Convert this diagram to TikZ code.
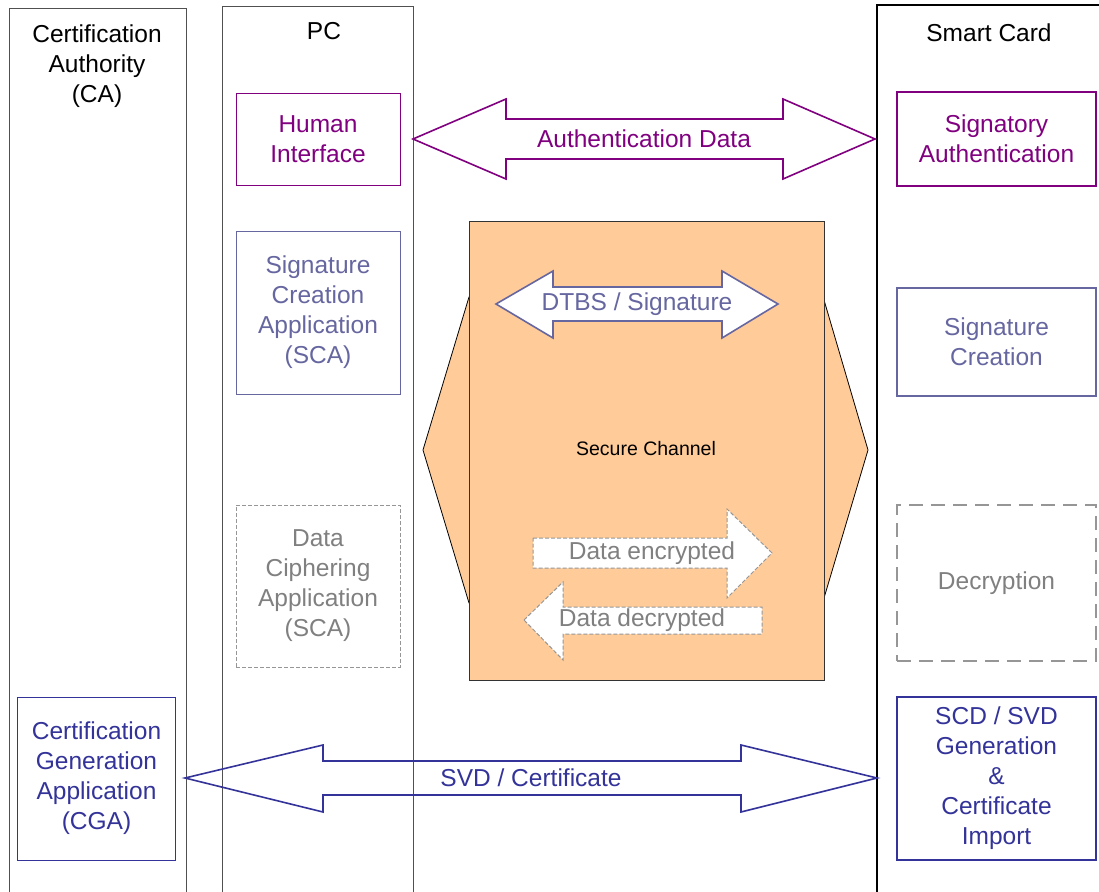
\documentclass[tikz,border=0pt]{standalone}
\usepackage{fontspec}
\setmainfont{Liberation Sans}
\definecolor{purp}{RGB}{128,0,128}
\definecolor{slate}{RGB}{102,102,160}
\definecolor{navy}{RGB}{51,51,153}
\definecolor{dashgray}{RGB}{150,150,150}
\definecolor{txtgray}{RGB}{128,128,128}
\definecolor{peach}{RGB}{255,204,153}
\definecolor{colline}{RGB}{80,80,80}
\tikzset{
  lbl/.style={font=\fontsize{24.5bp}{30bp}\selectfont, align=center, inner sep=0pt},
  box/.style={lbl, draw, line width=1bp, minimum width=#1},
  box/.default=164bp,
  column/.style={draw=colline, line width=1bp},
  blockarrow/.style={line width=1.6bp, line join=miter},
  flowarrow/.style={draw=dashgray, fill=white, dashed, dash pattern=on 4bp off 2bp, line width=1bp}
}
\begin{document}
\begin{tikzpicture}[x=1bp, y=-1bp]
\path[use as bounding box, clip] (0,0) rectangle (1099,892);
\fill[white] (0,0) rectangle (1099,892);

% columns
\draw[column] (9,900) -- (9,8) -- (186,8) -- (186,900);
\draw[column] (222,900) -- (222,6) -- (413,6) -- (413,900);
\draw[draw=black, line width=1.6bp] (877,900) -- (877,5) -- (1110,5);
\node[lbl] (hca) at (97,66) {Certification\\Authority\\(CA)};
\node[lbl] (hpc) at (324,31) {PC};
\node[lbl] (hsc) at (989,33) {Smart Card};

% secure channel
\filldraw[fill=peach, draw=black, line width=0.8bp]
  (423,450) -- (469,297) -- (824,300) -- (868,450) -- (824,598) -- (469,603) -- cycle;
\filldraw[fill=peach, draw=black!80, line width=1bp] (469,221) rectangle (824,680);
\node[font=\fontsize{19.5bp}{23bp}\selectfont, inner sep=0pt] (chan) at (646,449) {Secure Channel};

% boxes
\node[box, draw=purp, text=purp, minimum height=92bp] (hi) at (318,139) {Human\\Interface};
\node[box=199bp, draw=purp, text=purp, line width=1.8bp, minimum height=94bp] (sa) at (996.5,139) {Signatory\\Authentication};
\node[box, draw=slate, text=slate, minimum height=163bp] (sca) at (318,312.5) {Signature\\Creation\\Application\\(SCA)};
\node[box=199bp, draw=slate, text=slate, line width=1.8bp, minimum height=108bp] (sc) at (996.5,342) {Signature\\Creation};
\node[box, draw=dashgray, text=txtgray, dashed, dash pattern=on 4bp off 2bp, minimum height=162bp] (dca) at (318,586) {Data\\Ciphering\\Application\\(SCA)};
\node[box=199bp, draw=dashgray, text=txtgray, line width=2bp, dash pattern=on 14bp off 8bp, minimum height=156bp] (dec) at (996.5,583) {Decryption};
\node[box=157bp, draw=navy, text=navy, minimum height=163bp] (cga) at (96.5,778.5) {Certification\\Generation\\Application\\(CGA)};
\node[box=199bp, draw=navy, text=navy, line width=2bp, minimum height=163bp] (scd) at (996.5,778.5) {SCD / SVD\\Generation\\\&\\Certificate\\Import};

% authentication data
\draw[blockarrow, draw=purp]
  (413,139) -- (506,99) -- (506,119) -- (783,119) -- (783,99) -- (875,139)
  -- (783,179) -- (783,159) -- (506,159) -- (506,179) -- cycle;
\node[lbl, text=purp] (auth) at (644,139) {Authentication Data};

% DTBS / signature
\filldraw[blockarrow, draw=slate, fill=white]
  (496,304) -- (553,271) -- (553,287) -- (722,287) -- (722,271) -- (778,304)
  -- (722,338) -- (722,321) -- (553,321) -- (553,338) -- cycle;
\node[lbl, text=slate] (dtbs) at (637,304) {DTBS / Signature};

% data encrypted / decrypted
\path[flowarrow] (533,538) -- (727,538) -- (727,509) -- (772,553) -- (727,598) -- (727,568) -- (533,568) -- cycle;
\node[lbl, text=txtgray] (enc) at (652,553) {Data encrypted};
\path[flowarrow] (524,620) -- (563,582) -- (563,607) -- (762,607) -- (762,634) -- (563,634) -- (563,660) -- cycle;
\node[lbl, text=txtgray] (decr) at (642,620) {Data decrypted};

% SVD / certificate
\draw[blockarrow, draw=navy]
  (185,778) -- (323,745) -- (323,761) -- (741,761) -- (741,745) -- (877,778)
  -- (741,812) -- (741,795) -- (323,795) -- (323,812) -- cycle;
\node[lbl, text=navy] (svd) at (531,778) {SVD / Certificate};
\end{tikzpicture}
\end{document}
